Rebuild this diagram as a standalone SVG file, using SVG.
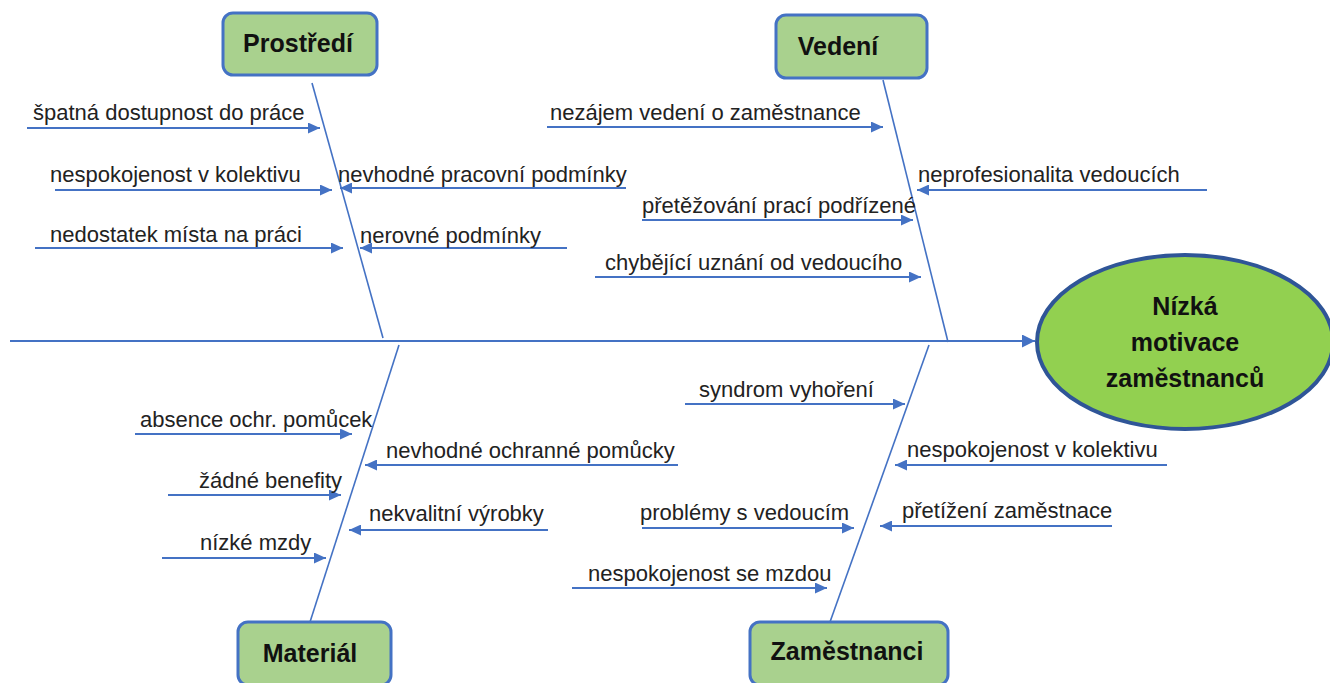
<svg xmlns="http://www.w3.org/2000/svg" width="1330" height="683" viewBox="0 0 1330 683">
  <style>
    .bg { fill: #ffffff; }
    .box { fill: #a9d18e; stroke: #4472c4; stroke-width: 3; }
    .head { fill: #92d050; stroke: #2f5597; stroke-width: 4; }
    .title { font-family: "Liberation Sans", Arial, sans-serif; font-size: 25px; font-weight: bold; fill: #111111; }
    .effect { font-family: "Liberation Sans", Arial, sans-serif; font-size: 25px; font-weight: bold; fill: #111111; text-anchor: middle; }
    .lbl { font-family: "Liberation Sans", Arial, sans-serif; font-size: 22px; fill: #222222; }
    .spine { stroke: #4472c4; stroke-width: 2; fill: none; }
    .bone { stroke: #4472c4; stroke-width: 1.6; fill: none; }
    .cause { stroke: #4472c4; stroke-width: 2; fill: none; marker-end: url(#ah); }
  </style>
  <defs>
    <marker id="ah" viewBox="0 0 12 11" refX="12" refY="5.5" markerWidth="12" markerHeight="11" markerUnits="userSpaceOnUse" orient="auto">
      <path d="M0,0 L12,5.5 L0,11 z" fill="#4472c4"/>
    </marker>
    <marker id="ahBig" viewBox="0 0 13 13" refX="13" refY="6.5" markerWidth="13" markerHeight="13" markerUnits="userSpaceOnUse" orient="auto">
      <path d="M0,0 L13,6.5 L0,13 z" fill="#4472c4"/>
    </marker>
  </defs>

  <rect class="bg" x="0" y="0" width="1330" height="683"/>

  <!-- spine, category bones and cause arrows -->
  <g id="connectors">
    <line class="spine" x1="10" y1="341" x2="1035" y2="341" marker-end="url(#ahBig)"/>

    <line class="bone" x1="312" y1="83" x2="383" y2="338"/>
    <line class="bone" x1="883" y1="80" x2="948" y2="342"/>
    <line class="bone" x1="399" y1="345" x2="310" y2="622"/>
    <line class="bone" x1="929" y1="345" x2="830" y2="622"/>

    <!-- Prostředí -->
    <line class="cause" x1="27" y1="128" x2="320" y2="128"/>
    <line class="cause" x1="55" y1="190" x2="332" y2="190"/>
    <line class="cause" x1="35" y1="248" x2="343" y2="248"/>
    <line class="cause" x1="626" y1="188" x2="340" y2="188"/>
    <line class="cause" x1="567" y1="248" x2="360" y2="248"/>

    <!-- Vedení -->
    <line class="cause" x1="547" y1="127" x2="883" y2="127"/>
    <line class="cause" x1="1207" y1="190" x2="917" y2="190"/>
    <line class="cause" x1="642" y1="220" x2="913" y2="220"/>
    <line class="cause" x1="595" y1="277" x2="921" y2="277"/>

    <!-- Materiál -->
    <line class="cause" x1="135" y1="434" x2="352" y2="434"/>
    <line class="cause" x1="678" y1="465" x2="365" y2="465"/>
    <line class="cause" x1="168" y1="495" x2="341" y2="495"/>
    <line class="cause" x1="548" y1="530" x2="349" y2="530"/>
    <line class="cause" x1="162" y1="558" x2="326" y2="558"/>

    <!-- Zaměstnanci -->
    <line class="cause" x1="685" y1="404" x2="905" y2="404"/>
    <line class="cause" x1="1167" y1="465" x2="895" y2="465"/>
    <line class="cause" x1="642" y1="528" x2="854" y2="528"/>
    <line class="cause" x1="1112" y1="526" x2="880" y2="526"/>
    <line class="cause" x1="572" y1="588" x2="827" y2="588"/>
  </g>

  <!-- cause labels -->
  <g id="labels">
    <text class="lbl" x="33" y="120">špatná dostupnost do práce</text>
    <text class="lbl" x="50" y="182">nespokojenost v kolektivu</text>
    <text class="lbl" x="50" y="242">nedostatek místa na práci</text>
    <text class="lbl" x="338" y="182">nevhodné pracovní podmínky</text>
    <text class="lbl" x="360" y="243">nerovné podmínky</text>

    <text class="lbl" x="550" y="120">nezájem vedení o zaměstnance</text>
    <text class="lbl" x="918" y="182">neprofesionalita vedoucích</text>
    <text class="lbl" x="642" y="213">přetěžování prací podřízené</text>
    <text class="lbl" x="605" y="270">chybějící uznání od vedoucího</text>

    <text class="lbl" x="140" y="427">absence ochr. pomůcek</text>
    <text class="lbl" x="386" y="458">nevhodné ochranné pomůcky</text>
    <text class="lbl" x="199" y="488">žádné benefity</text>
    <text class="lbl" x="369" y="521">nekvalitní výrobky</text>
    <text class="lbl" x="200" y="550">nízké mzdy</text>

    <text class="lbl" x="699" y="397">syndrom vyhoření</text>
    <text class="lbl" x="907" y="457">nespokojenost v kolektivu</text>
    <text class="lbl" x="640" y="520">problémy s vedoucím</text>
    <text class="lbl" x="902" y="518">přetížení zaměstnace</text>
    <text class="lbl" x="588" y="581">nespokojenost se mzdou</text>
  </g>

  <!-- category nodes -->
  <g id="prostredi">
    <rect class="box" x="223" y="13" width="154" height="62" rx="10"/>
    <text class="title" x="298" y="52" text-anchor="middle">Prostředí</text>
  </g>
  <g id="vedeni">
    <rect class="box" x="776" y="15" width="151" height="63" rx="10"/>
    <text class="title" x="838" y="55" text-anchor="middle">Vedení</text>
  </g>
  <g id="material">
    <rect class="box" x="238" y="622" width="153" height="63" rx="10"/>
    <text class="title" x="310" y="662" text-anchor="middle">Materiál</text>
  </g>
  <g id="zamestnanci">
    <rect class="box" x="750" y="622" width="198" height="63" rx="10"/>
    <text class="title" x="847" y="660" text-anchor="middle">Zaměstnanci</text>
  </g>

  <!-- effect node -->
  <g id="effect">
    <ellipse class="head" cx="1185" cy="342" rx="148" ry="87"/>
    <text class="effect" x="1185" y="315">Nízká</text>
    <text class="effect" x="1185" y="351">motivace</text>
    <text class="effect" x="1185" y="387">zaměstnanců</text>
  </g>
</svg>
